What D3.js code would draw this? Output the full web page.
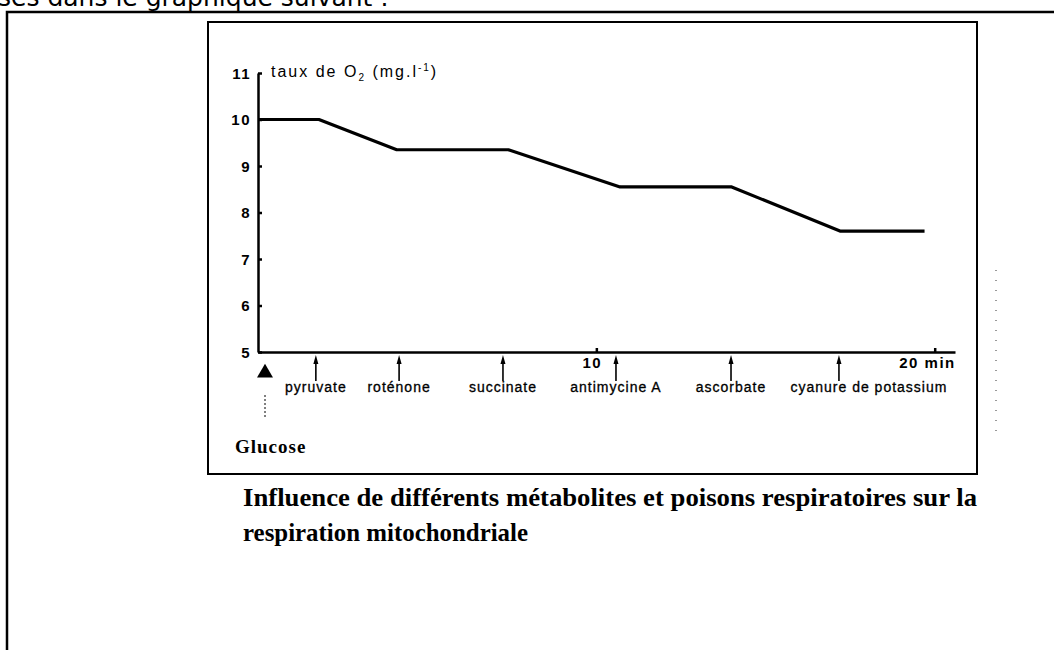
<!DOCTYPE html>
<html>
<head>
<meta charset="utf-8">
<script src="https://cdn.jsdelivr.net/npm/d3@7"></script>
<style>
  body { margin: 0; background: #fff; }
  svg { display: block; }
  .axis text { font-family: "Liberation Sans", Arial, sans-serif; font-weight: bold; font-size: 15px; letter-spacing: 1.5px; fill: #000; }
  .axis path, .axis line { stroke: #000; stroke-width: 2.5px; }
</style>
</head>
<body>
<svg width="1054" height="650"></svg>
<script>
// data
var times = [0, 1.8, 4.1, 7.4, 10.7, 14.0, 17.2, 19.7];       // min
var o2 = [10, 10, 9.35, 9.35, 8.55, 8.55, 7.6, 7.6];           // mg/l
var events = ["pyruvate", "roténone", "succinate", "antimycine A", "ascorbate", "cyanure de potassium"];
var eventTimes = [1.71, 4.17, 7.24, 10.58, 13.98, 17.17];
var yTicks = [5, 6, 7, 8, 9, 10, 11];
var xTicks = [10, 20];
var xTickLabels = ["10", "20 min"];

var svg = d3.select("svg");

// cut-off sentence at the very top of the page
svg.append("text")
    .attr("x", -2).attr("y", 6)
    .style("font-family", "'DejaVu Sans', sans-serif")
    .style("font-size", "25px")
    .text("ses dans le graphique suivant :");

// outer frame (runs off the page to the right and bottom)
svg.append("rect")
    .attr("x", 7).attr("y", 12)
    .attr("width", 1100).attr("height", 700)
    .attr("fill", "none").attr("stroke", "#000").attr("stroke-width", 2.5);

// inner frame around the figure
svg.append("rect")
    .attr("x", 208).attr("y", 22)
    .attr("width", 769).attr("height", 452)
    .attr("fill", "none").attr("stroke", "#000").attr("stroke-width", 2);

// scan speckle on the right
svg.append("line")
    .attr("x1", 996).attr("x2", 996).attr("y1", 270).attr("y2", 440)
    .attr("stroke", "#555").attr("stroke-width", 1.2)
    .attr("stroke-dasharray", "1,9");

var x = d3.scaleLinear().domain([0, 20.6]).range([258, 955]);
var y = d3.scaleLinear().domain([5, 11]).range([352, 73]);

// y axis, ticks pointing inwards
svg.append("g")
    .attr("class", "axis")
    .attr("transform", "translate(" + x(0) + ",0)")
    .call(d3.axisLeft(y).tickValues(yTicks).tickFormat(d3.format("d"))
        .tickSize(-4).tickPadding(7).tickSizeOuter(0))
    .call(function(g) { g.selectAll(".tick text").attr("dy", "0.35em"); });

// x axis
svg.append("g")
    .attr("class", "axis")
    .attr("transform", "translate(0," + y(5) + ")")
    .call(d3.axisBottom(x).tickValues(xTicks).tickSize(-4).tickPadding(5).tickSizeOuter(0)
        .tickFormat(function(d, i) { return xTickLabels[i]; }))
    .call(function(g) {
        g.selectAll(".tick text")
            .attr("text-anchor", function(d, i) { return i == 1 ? "start" : "middle"; })
            .attr("dx", function(d, i) { return i == 1 ? "-2.4em" : "-0.3em"; });
    });

// y axis title
var yt = svg.append("text")
    .attr("x", 271).attr("y", 77)
    .style("font-family", "'Liberation Sans', Arial, sans-serif")
    .style("font-size", "16px")
    .style("letter-spacing", "2px");
yt.append("tspan").text("taux de O");
yt.append("tspan").attr("dy", 4).style("font-size", "10px").text("2");
yt.append("tspan").attr("dy", -4).text(" (mg.l");
yt.append("tspan").attr("dy", -6).style("font-size", "10px").text("-1");
yt.append("tspan").attr("dy", 6).text(")");

// O2 trace
var line = d3.line()
    .x(function(d, i) { return x(times[i]); })
    .y(function(d) { return y(d); });

svg.append("path")
    .datum(o2)
    .attr("d", line)
    .attr("fill", "none")
    .attr("stroke", "#000")
    .attr("stroke-width", 3.2)
    .attr("stroke-linejoin", "round");

// injection arrows and their labels
var ev = svg.append("g").selectAll("g")
    .data(events)
    .enter().append("g")
    .attr("transform", function(d, i) { return "translate(" + x(eventTimes[i]) + ",0)"; });

ev.append("line")
    .attr("x1", 0).attr("x2", 0)
    .attr("y1", 381).attr("y2", 360)
    .attr("stroke", "#000").attr("stroke-width", 1.6);

ev.append("path")
    .attr("d", "M-2.5,364 L0,355 L2.5,364 Z")
    .attr("fill", "#000");

ev.append("text")
    .attr("x", function(d, i) { return i == 5 ? 30 : 0; })
    .attr("y", 392)
    .attr("text-anchor", "middle")
    .style("font-family", "'Liberation Sans', Arial, sans-serif")
    .style("font-size", "14px")
    .style("letter-spacing", "1px")
    .attr("stroke", "#000").attr("stroke-width", 0.3)
    .text(function(d) { return d; });

// glucose marker at t = 0
svg.append("path")
    .attr("d", d3.symbol().type(d3.symbolTriangle).size(110))
    .attr("transform", "translate(" + (x(0) + 7) + ",373)")
    .attr("fill", "#000");

svg.append("line")
    .attr("x1", x(0) + 7).attr("x2", x(0) + 7)
    .attr("y1", 395).attr("y2", 417)
    .attr("stroke", "#000").attr("stroke-width", 1)
    .attr("stroke-dasharray", "2,2");

svg.append("text")
    .attr("x", 235).attr("y", 453)
    .style("font-family", "'Liberation Serif', 'Times New Roman', serif")
    .style("font-weight", "bold")
    .style("font-size", "19px")
    .style("letter-spacing", "1px")
    .text("Glucose");

// caption
var cap = svg.append("g")
    .style("font-family", "'Liberation Serif', 'Times New Roman', serif")
    .style("font-weight", "bold")
    .style("font-size", "25px");
cap.append("text").attr("x", 243).attr("y", 506)
    .attr("textLength", 734).attr("lengthAdjust", "spacingAndGlyphs")
    .text("Influence de différents métabolites et poisons respiratoires sur la");
cap.append("text").attr("x", 243).attr("y", 541)
    .attr("textLength", 285).attr("lengthAdjust", "spacingAndGlyphs")
    .text("respiration mitochondriale");
</script>
</body>
</html>
